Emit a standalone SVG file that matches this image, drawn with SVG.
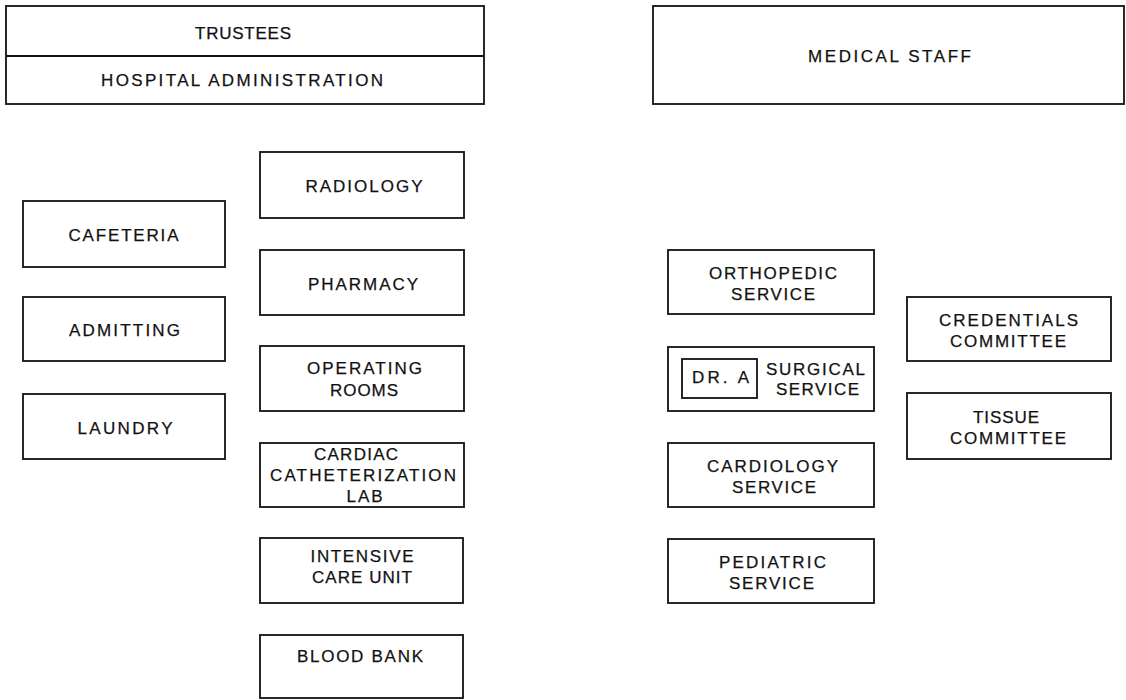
<svg xmlns="http://www.w3.org/2000/svg" width="1126" height="700" viewBox="0 0 1126 700">
<style>
rect{fill:#fff;stroke:#111;stroke-width:1.8}
text{font-family:"Liberation Sans",Arial,sans-serif;font-size:17px;fill:#111;stroke:#111;stroke-width:0.25;text-anchor:middle}
</style>
<rect x="0" y="0" width="1126" height="700" style="fill:#fff;stroke:none"/>
<g id="admin">
<rect x="6" y="6" width="478" height="98"/>
<line x1="6" y1="56" x2="484" y2="56" stroke="#111" stroke-width="1.8"/>
<text x="243" y="38.5" textLength="96" lengthAdjust="spacing">TRUSTEES</text>
<text x="242" y="86" textLength="282" lengthAdjust="spacing">HOSPITAL ADMINISTRATION</text>
</g>
<g id="medical-staff">
<rect x="653" y="6" width="471" height="98"/>
<text x="889.5" y="61.5" textLength="163" lengthAdjust="spacing">MEDICAL STAFF</text>
</g>
<g id="cafeteria">
<rect x="23" y="201" width="202" height="66"/>
<text x="123.5" y="241" textLength="110" lengthAdjust="spacing">CAFETERIA</text>
</g>
<g id="admitting">
<rect x="23" y="297" width="202" height="64"/>
<text x="124.5" y="336" textLength="111" lengthAdjust="spacing">ADMITTING</text>
</g>
<g id="laundry">
<rect x="23" y="394" width="202" height="65"/>
<text x="125" y="434" textLength="95" lengthAdjust="spacing">LAUNDRY</text>
</g>
<g id="radiology">
<rect x="260" y="152" width="204" height="66"/>
<text x="364" y="192" textLength="117" lengthAdjust="spacing">RADIOLOGY</text>
</g>
<g id="pharmacy">
<rect x="260" y="250" width="204" height="65"/>
<text x="363" y="290" textLength="110" lengthAdjust="spacing">PHARMACY</text>
</g>
<g id="operating-rooms">
<rect x="260" y="346" width="204" height="65"/>
<text x="364.5" y="374" textLength="115" lengthAdjust="spacing">OPERATING</text>
<text x="364" y="396" textLength="68" lengthAdjust="spacing">ROOMS</text>
</g>
<g id="cardiac-cath-lab">
<rect x="260" y="443" width="204" height="64"/>
<text x="356" y="460" textLength="84" lengthAdjust="spacing">CARDIAC</text>
<text x="363" y="481" textLength="186" lengthAdjust="spacing">CATHETERIZATION</text>
<text x="364.5" y="502" textLength="36" lengthAdjust="spacing">LAB</text>
</g>
<g id="icu">
<rect x="260" y="538" width="203" height="65"/>
<text x="362" y="562" textLength="103" lengthAdjust="spacing">INTENSIVE</text>
<text x="362" y="583" textLength="100" lengthAdjust="spacing">CARE UNIT</text>
</g>
<g id="blood-bank">
<rect x="260" y="635" width="203" height="63"/>
<text x="360" y="662" textLength="126" lengthAdjust="spacing">BLOOD BANK</text>
</g>
<g id="orthopedic">
<rect x="668" y="250" width="206" height="64"/>
<text x="773" y="279" textLength="128" lengthAdjust="spacing">ORTHOPEDIC</text>
<text x="773" y="300" textLength="84" lengthAdjust="spacing">SERVICE</text>
</g>
<g id="surgical">
<rect x="668" y="347" width="206" height="64"/>
<rect x="682" y="359" width="75" height="39"/>
<text x="720.5" y="383" textLength="57" lengthAdjust="spacing">DR. A</text>
<text x="815.5" y="375" textLength="99" lengthAdjust="spacing">SURGICAL</text>
<text x="817.5" y="395" textLength="83" lengthAdjust="spacing">SERVICE</text>
</g>
<g id="cardiology">
<rect x="668" y="443" width="206" height="64"/>
<text x="772.5" y="472" textLength="131" lengthAdjust="spacing">CARDIOLOGY</text>
<text x="774" y="493" textLength="84" lengthAdjust="spacing">SERVICE</text>
</g>
<g id="pediatric">
<rect x="668" y="539" width="206" height="64"/>
<text x="772.5" y="568" textLength="107" lengthAdjust="spacing">PEDIATRIC</text>
<text x="771.5" y="589" textLength="85" lengthAdjust="spacing">SERVICE</text>
</g>
<g id="credentials">
<rect x="907" y="297" width="204" height="64"/>
<text x="1008.5" y="326" textLength="139" lengthAdjust="spacing">CREDENTIALS</text>
<text x="1008" y="347" textLength="116" lengthAdjust="spacing">COMMITTEE</text>
</g>
<g id="tissue">
<rect x="907" y="393" width="204" height="66"/>
<text x="1006" y="423" textLength="66" lengthAdjust="spacing">TISSUE</text>
<text x="1008" y="444" textLength="116" lengthAdjust="spacing">COMMITTEE</text>
</g>
<g id="connectors"></g>
</svg>
